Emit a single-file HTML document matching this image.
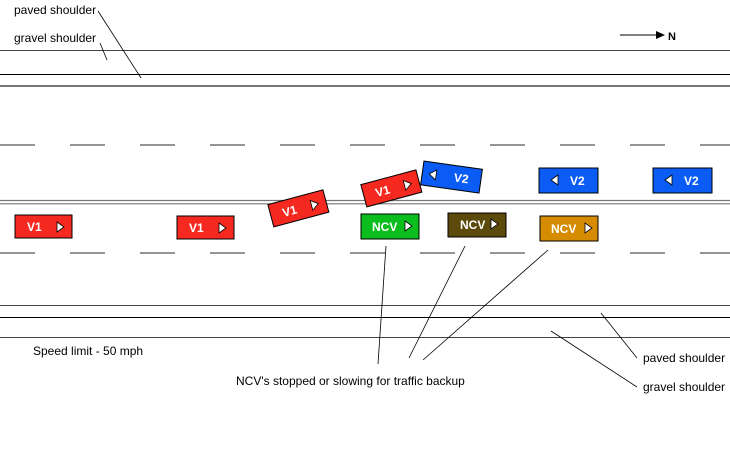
<!DOCTYPE html>
<html><head><meta charset="utf-8"><style>
html,body{margin:0;padding:0;background:#fff;}
svg{display:block;}
text{font-family:"Liberation Sans",Arial,sans-serif;}
.l{font-size:12px;fill:#000;}
.v{font-size:12px;font-weight:bold;fill:#fff;}
</style></head><body>
<svg width="730" height="470" viewBox="0 0 730 470" xmlns="http://www.w3.org/2000/svg">
<defs>
<g id="tri"><polygon points="0,-5 7,0 0,5" fill="#fff" stroke="#000" stroke-width="0.8"/></g>
<g id="triL"><polygon points="0,-5 -7,0 0,5" fill="#fff" stroke="#000" stroke-width="0.8"/></g>
</defs>
<!-- top shoulder lines -->
<line x1="0" y1="50.5" x2="730" y2="50.5" stroke="#444" stroke-width="1"/>
<line x1="0" y1="74.5" x2="730" y2="74.5" stroke="#000" stroke-width="1"/>
<line x1="0" y1="86" x2="730" y2="86" stroke="#777" stroke-width="2"/>
<!-- dashes -->
<line x1="0" y1="145" x2="730" y2="145" stroke="#555" stroke-width="1.3" stroke-dasharray="35 35"/>
<line x1="0" y1="253" x2="730" y2="253" stroke="#555" stroke-width="1.3" stroke-dasharray="35 35"/>
<!-- center double -->
<line x1="0" y1="200.5" x2="730" y2="200.5" stroke="#777" stroke-width="1.2"/>
<line x1="0" y1="203.8" x2="730" y2="203.8" stroke="#777" stroke-width="1.2"/>
<!-- bottom shoulder -->
<line x1="0" y1="305.5" x2="730" y2="305.5" stroke="#444" stroke-width="1"/>
<line x1="0" y1="317.5" x2="730" y2="317.5" stroke="#000" stroke-width="1"/>
<line x1="0" y1="337.5" x2="730" y2="337.5" stroke="#444" stroke-width="1"/>
<!-- labels top -->
<text class="l" x="14" y="14">paved shoulder</text>
<text class="l" x="14" y="42">gravel shoulder</text>
<line x1="98" y1="11" x2="141" y2="78" stroke="#000" stroke-width="0.8"/>
<line x1="100" y1="43" x2="107" y2="60" stroke="#000" stroke-width="0.8"/>
<!-- north arrow -->
<line x1="620" y1="35" x2="658" y2="35" stroke="#000" stroke-width="1"/>
<polygon points="656,31 665,35 656,39" fill="#000"/>
<text x="668" y="40" font-size="11" font-weight="bold">N</text>
<!-- vehicles -->
<g transform="translate(15,215)"><rect x="0" y="0" width="57" height="23" fill="#f5291f" stroke="#000"/><text class="v" x="12" y="16">V1</text><use href="#tri" x="42" y="12"/></g>
<g transform="translate(177,216)"><rect x="0" y="0" width="57" height="23" fill="#f5291f" stroke="#000"/><text class="v" x="12" y="16">V1</text><use href="#tri" x="42" y="12"/></g>
<g transform="translate(298,209) rotate(-15)"><rect x="-28" y="-12" width="57" height="23" fill="#f5291f" stroke="#000"/><text class="v" x="-16" y="4">V1</text><use href="#tri" x="14" y="0"/></g>
<g transform="translate(391,189) rotate(-15)"><rect x="-28" y="-12" width="57" height="23" fill="#f5291f" stroke="#000"/><text class="v" x="-16" y="4">V1</text><use href="#tri" x="14" y="0"/></g>
<g transform="translate(451,177) rotate(8)"><rect x="-29" y="-12" width="59" height="24" fill="#0a5cf5" stroke="#000"/><use href="#triL" x="-15" y="0"/><text class="v" x="3" y="4">V2</text></g>
<g transform="translate(539,168)"><rect x="0" y="0" width="59" height="25" fill="#0a5cf5" stroke="#000"/><use href="#triL" x="19" y="12"/><text class="v" x="31" y="17">V2</text></g>
<g transform="translate(653,168)"><rect x="0" y="0" width="59" height="25" fill="#0a5cf5" stroke="#000"/><use href="#triL" x="19" y="12"/><text class="v" x="31" y="17">V2</text></g>
<g transform="translate(361,214)"><rect x="0" y="0" width="58" height="25" fill="#0bbd1d" stroke="#000"/><text class="v" x="11" y="17">NCV</text><use href="#tri" x="44" y="12"/></g>
<g transform="translate(448,213)"><rect x="0" y="0" width="58" height="24" fill="#5b4a0c" stroke="#000"/><text class="v" x="12" y="16">NCV</text><use href="#tri" x="43" y="11"/></g>
<g transform="translate(540,216)"><rect x="0" y="0" width="58" height="25" fill="#d68c00" stroke="#000"/><text class="v" x="11" y="17">NCV</text><use href="#tri" x="45" y="12"/></g>
<!-- leaders -->
<line x1="386" y1="246" x2="378" y2="364" stroke="#000" stroke-width="0.8"/>
<line x1="465" y1="246" x2="409" y2="358" stroke="#000" stroke-width="0.8"/>
<line x1="548" y1="250" x2="423" y2="360" stroke="#000" stroke-width="0.8"/>
<line x1="601" y1="313" x2="637" y2="358" stroke="#000" stroke-width="0.8"/>
<line x1="551" y1="331" x2="637" y2="387" stroke="#000" stroke-width="0.8"/>
<text class="l" x="33" y="355">Speed limit - 50 mph</text>
<text class="l" x="236" y="385">NCV's stopped or slowing for traffic backup</text>
<text class="l" x="643" y="362">paved shoulder</text>
<text class="l" x="643" y="391">gravel shoulder</text>
</svg>
</body></html>
